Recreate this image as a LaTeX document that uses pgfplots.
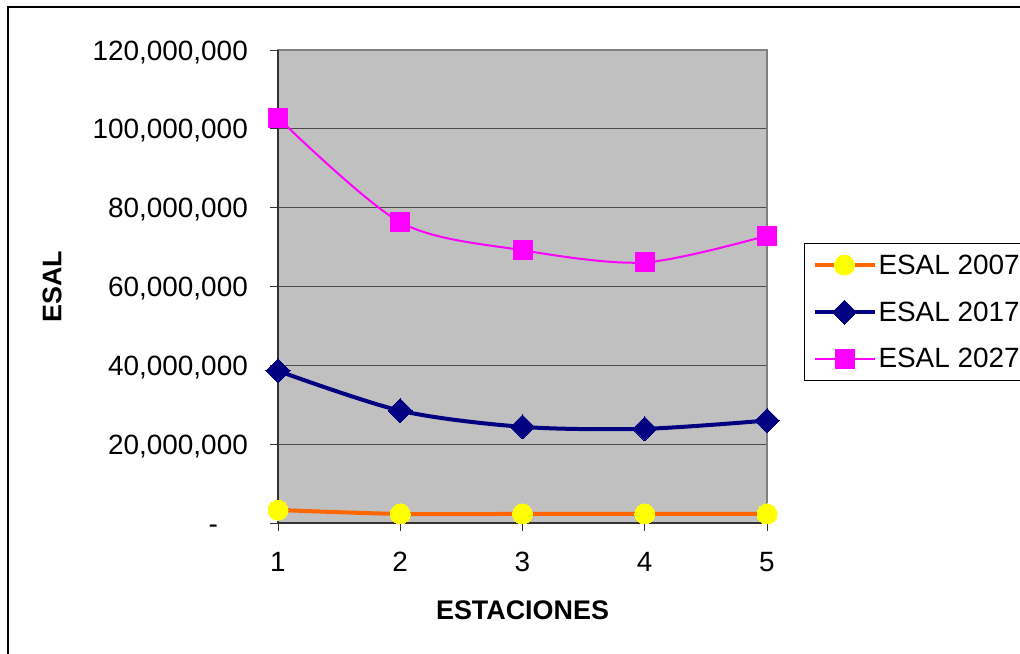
\documentclass[border=0pt]{standalone}
\usepackage{fontspec}
\setmainfont{Liberation Sans}
\usepackage{pgfplots}
\pgfplotsset{compat=1.18}
\definecolor{plotbg}{HTML}{C0C0C0}
\definecolor{orange07}{HTML}{FF6600}
\definecolor{yellow07}{HTML}{FFFF00}
\definecolor{navy17}{HTML}{000080}
\definecolor{mag27}{HTML}{FF00FF}
\definecolor{gridc}{HTML}{4A4A4A}
\begin{document}
\begin{tikzpicture}
\path[use as bounding box] (0,0) rectangle (1020bp,-654bp);
\draw[line width=1.5bp,black] (8bp,-660bp) -- (8bp,-7bp) -- (1030bp,-7bp);
\begin{axis}[
  at={(278bp,-523bp)}, anchor=south west,
  scale only axis, width=489bp, height=473bp,
  xmin=1, xmax=5, ymin=0, ymax=120000000,
  scaled y ticks=false, scaled x ticks=false,
  clip=false,
  font=\fontsize{28}{34}\selectfont,
  axis background/.style={fill=plotbg},
  axis line style={draw=gray, line width=1.2bp},
  ymajorgrids, grid style={draw=gridc, line width=1bp},
  xtick={1,2,3,4,5}, xticklabels={1,2,3,4,5},
  ytick={0,20000000,40000000,60000000,80000000,100000000,120000000},
  yticklabels={{-\hspace*{30bp}},{20,000,000},{40,000,000},{60,000,000},{80,000,000},{100,000,000},{120,000,000}},
  tick pos=left, tick align=outside,
  major tick length=8bp,
  tick style={draw=black!80, line width=1bp},
  xticklabel style={font=\fontsize{28}{34}\selectfont, anchor=north, inner sep=0pt, yshift=-21bp},
  yticklabel style={font=\fontsize{28}{34}\selectfont, anchor=base east, inner sep=0pt, xshift=-22bp, yshift=-10bp},
  xlabel={\bfseries ESTACIONES},
  ylabel={\bfseries ESAL},
  xlabel style={font=\fontsize{27}{32}\selectfont, at={(axis description cs:0.5,-0.184)}, anchor=center, inner sep=0pt},
  ylabel style={font=\fontsize{27}{32}\selectfont, at={(axis description cs:-0.462,0.5)}, anchor=center, inner sep=0pt},
  legend style={at={(axis description cs:1.0757,0.446)}, anchor=west,
    draw=black, line width=1bp, fill=white,
    font=\fontsize{28}{34}\selectfont,
    row sep=22bp, inner xsep=8bp, inner ysep=9bp,
    /tikz/every even column/.append style={column sep=13bp}},
  legend cell align=left,
  legend image code/.code={\draw[mark repeat=2,mark phase=2] plot coordinates {(0bp,0bp) (30bp,0bp) (60bp,0bp)};},
]
\draw[draw=black!80, line width=1.5bp] (axis cs:1,120000000) -- (axis cs:1,0) -- (axis cs:5,0);
\addplot[smooth, color=orange07, line width=4bp, mark=*, mark size=10bp,
  mark options={draw=yellow07, fill=yellow07, line width=0pt}]
  coordinates {(1,3300000) (2,2300000) (3,2300000) (4,2300000) (5,2300000)};
\addlegendentry{ESAL 2007}
\addplot[smooth, color=navy17, line width=4bp, mark=square*, mark size=8.5bp,
  mark options={draw=navy17, fill=navy17, rotate=45, line width=0pt}]
  coordinates {(1,38600000) (2,28500000) (3,24400000) (4,23900000) (5,26000000)};
\addlegendentry{ESAL 2017}
\addplot[smooth, color=mag27, line width=2bp, mark=square*, mark size=9.5bp,
  mark options={draw=mag27, fill=mag27, line width=0pt}]
  coordinates {(1,102800000) (2,76300000) (3,69200000) (4,66100000) (5,72900000)};
\addlegendentry{ESAL 2027}
\end{axis}
\end{tikzpicture}
\end{document}
